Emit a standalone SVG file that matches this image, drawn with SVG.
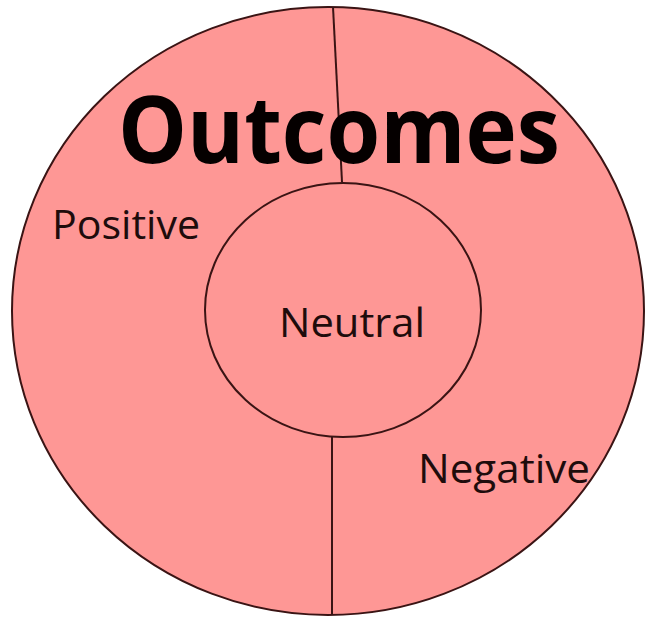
<svg xmlns="http://www.w3.org/2000/svg" width="645" height="617" viewBox="0 0 645 617">
<style>
.shape{fill:#fe9795;stroke:#3a1414;stroke-width:2}
.line{stroke:#3a1414;stroke-width:2;fill:none}
.lbl{font-family:"Open Sans","Liberation Sans",sans-serif;font-size:40px;fill:#1e0c0c}
.title{font-family:"Open Sans","Liberation Sans",sans-serif;font-size:94px;font-weight:bold;fill:#050000}
</style>
<rect width="645" height="617" fill="#ffffff"/>
<g id="outer">
<ellipse class="shape" cx="328" cy="311" rx="316" ry="304"/>
</g>
<g id="connectors">
<line class="line" x1="333" y1="7" x2="342" y2="182"/>
<line class="line" x1="332" y1="437" x2="332" y2="615"/>
</g>
<g id="inner">
<ellipse class="shape" cx="343" cy="310" rx="138" ry="127"/>
<text class="lbl" x="279" y="337" textLength="146" lengthAdjust="spacingAndGlyphs">Neutral</text>
</g>
<g id="title">
<text class="title" x="118" y="163" textLength="442" lengthAdjust="spacingAndGlyphs">Outcomes</text>
</g>
<g id="positive">
<text class="lbl" x="52" y="239" textLength="148" lengthAdjust="spacingAndGlyphs">Positive</text>
</g>
<g id="negative">
<text class="lbl" x="418" y="483" textLength="172" lengthAdjust="spacingAndGlyphs">Negative</text>
</g>
</svg>
